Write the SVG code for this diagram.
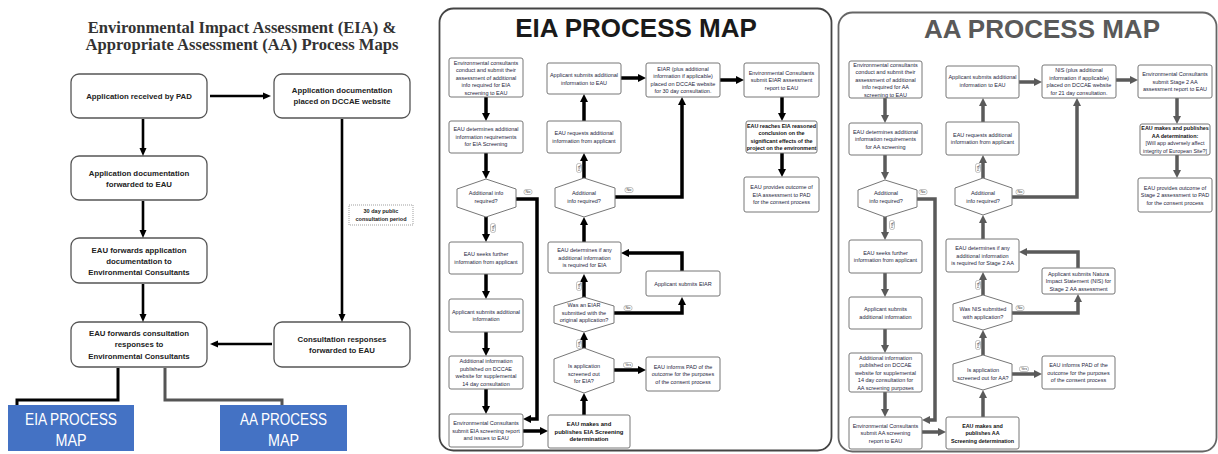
<svg xmlns="http://www.w3.org/2000/svg" width="1218" height="454" viewBox="0 0 1218 454">
<style>
.title{font-family:"Liberation Serif","Times New Roman",serif;font-weight:bold;font-size:16.6px;fill:#333;text-anchor:middle}
.ln{fill:#fff;stroke:#555;stroke-width:1.3}
.lt{font-family:"Liberation Sans",Arial,sans-serif;font-weight:bold;font-size:7.8px;fill:#222;text-anchor:middle}
.la{fill:none;stroke:#000;stroke-width:2.6}
.blue{fill:#4472C4}
.bt{font-family:"Liberation Sans",Arial,sans-serif;font-size:16px;fill:#fff;text-anchor:middle}
.panel{fill:#fff;stroke:#444;stroke-width:1.8}
.panelg{fill:#fff;stroke:#666;stroke-width:1.8}
.pt{font-family:"Liberation Sans",Arial,sans-serif;font-weight:bold;font-size:26px;text-anchor:middle}
.n{fill:#fff;stroke:#777;stroke-width:1}
.t{font-family:"Liberation Sans",Arial,sans-serif;font-size:5.5px;fill:#262640;text-anchor:middle}
.tb{font-weight:bold;font-size:5.4px;fill:#111}
.c{fill:none;stroke:#000;stroke-width:3.5}
.cg{fill:none;stroke:#5a5a5a;stroke-width:3.5}
.lb rect{fill:#fff;stroke:#999;stroke-width:0.6}
.lb text{font-family:"Liberation Sans",Arial,sans-serif;font-size:3.8px;fill:#333;text-anchor:middle}
</style>
<defs>
<marker id="ab" markerUnits="userSpaceOnUse" markerWidth="8" markerHeight="8" viewBox="0 0 8 8" refX="2" refY="4" orient="auto"><path d="M0,0 L8,4 L0,8 z" fill="#000"/></marker>
<marker id="ag" markerUnits="userSpaceOnUse" markerWidth="8" markerHeight="8" viewBox="0 0 8 8" refX="2" refY="4" orient="auto"><path d="M0,0 L8,4 L0,8 z" fill="#5a5a5a"/></marker>
<marker id="al" markerUnits="userSpaceOnUse" markerWidth="8" markerHeight="8" viewBox="0 0 8 8" refX="2" refY="4" orient="auto"><path d="M0,0.5 L8,4 L0,7.5 z" fill="#000"/></marker>
</defs>
<rect width="1218" height="454" fill="#fff"/>

<!-- LEFT PANEL -->
<text class="title" x="242" y="33">Environmental Impact Assessment (EIA) &amp;</text>
<text class="title" x="242" y="50">Appropriate Assessment (AA) Process Maps</text>

<g id="L1"><rect class="ln" x="71" y="74" width="136" height="44" rx="8"/><text class="lt" x="139" y="98.7">Application received by PAD</text></g>
<g id="L2"><rect class="ln" x="274" y="74" width="136" height="44" rx="8"/><text class="lt" x="342" y="92.7">Application documentation</text><text class="lt" x="342" y="103.7">placed on DCCAE website</text></g>
<g id="L3"><rect class="ln" x="71" y="156" width="136" height="44" rx="8"/><text class="lt" x="139" y="175.7">Application documentation</text><text class="lt" x="139" y="186.7">forwarded to EAU</text></g>
<g id="L4"><rect class="ln" x="71" y="238" width="136" height="45" rx="8"/><text class="lt" x="139" y="252.7">EAU forwards application</text><text class="lt" x="139" y="263.7">documentation to</text><text class="lt" x="139" y="274.7">Environmental Consultants</text></g>
<g id="L5"><rect class="ln" x="71" y="322" width="136" height="45" rx="8"/><text class="lt" x="139" y="335.7">EAU forwards consultation</text><text class="lt" x="139" y="347.2">responses to</text><text class="lt" x="139" y="358.7">Environmental Consultants</text></g>
<g id="L6"><rect class="ln" x="274" y="322" width="136" height="45" rx="8"/><text class="lt" x="342" y="341.7">Consultation responses</text><text class="lt" x="342" y="352.7">forwarded to EAU</text></g>
<g id="L7"><rect x="349" y="205" width="64" height="20" fill="#fff" stroke="#777" stroke-width="0.7" stroke-dasharray="1,1"/><text class="lt" x="381" y="213" style="font-size:5.5px">30 day public</text><text class="lt" x="381" y="221" style="font-size:5.5px">consultation period</text></g>
<g id="B1"><rect class="blue" x="8" y="405" width="126" height="46"/><text class="bt" x="71" y="425" textLength="92" lengthAdjust="spacingAndGlyphs">EIA PROCESS</text><text class="bt" x="71" y="446" textLength="31" lengthAdjust="spacingAndGlyphs">MAP</text></g>
<g id="B2"><rect class="blue" x="220" y="405" width="127" height="46"/><text class="bt" x="283.5" y="425" textLength="87" lengthAdjust="spacingAndGlyphs">AA PROCESS</text><text class="bt" x="283.5" y="446" textLength="31" lengthAdjust="spacingAndGlyphs">MAP</text></g>

<g id="left-connectors">
<path class="la" d="M210,96 H265" marker-end="url(#al)"/>
<path class="la" d="M143,119 V150" marker-end="url(#al)"/>
<path class="la" d="M143,201 V232" marker-end="url(#al)"/>
<path class="la" d="M143,284 V316" marker-end="url(#al)"/>
<path class="la" d="M272,344 H216" marker-end="url(#al)"/>
<path class="la" d="M342,119 V316" marker-end="url(#al)"/>
<path d="M118,368 V400 H17 V405" fill="none" stroke="#000" stroke-width="3"/>
<path d="M165,368 V400 H282 V405" fill="none" stroke="#555" stroke-width="3"/>
</g>

<!-- EIA PANEL -->
<rect class="panel" x="439.5" y="8.5" width="392" height="442" rx="14"/>
<text class="pt" x="636" y="37" fill="#1a1a1a">EIA PROCESS MAP</text>

<g id="eia-connectors">
<path class="c" d="M486,97 V115" marker-end="url(#ab)"/>
<path class="c" d="M486,153 V173" marker-end="url(#ab)"/>
<path class="c" d="M516,199 H537 V419 H529" marker-end="url(#ab)"/>
<path class="c" d="M486,217 V236" marker-end="url(#ab)"/>
<path class="c" d="M486,274 V293" marker-end="url(#ab)"/>
<path class="c" d="M486,332 V350" marker-end="url(#ab)"/>
<path class="c" d="M486,389 V408" marker-end="url(#ab)"/>
<path class="c" d="M523,431 H542" marker-end="url(#ab)"/>
<path class="c" d="M584,415 V399" marker-end="url(#ab)"/>
<path class="c" d="M614,370 H640" marker-end="url(#ab)"/>
<path class="c" d="M584,348 V338" marker-end="url(#ab)"/>
<path class="c" d="M614,313 H682 V303" marker-end="url(#ab)"/>
<path class="c" d="M682,271 V253 H627" marker-end="url(#ab)"/>
<path class="c" d="M584,297 V280" marker-end="url(#ab)"/>
<path class="c" d="M584,242 V223" marker-end="url(#ab)"/>
<path class="c" d="M615,197 H682 V103" marker-end="url(#ab)"/>
<path class="c" d="M584,178 V159" marker-end="url(#ab)"/>
<path class="c" d="M584,121 V100" marker-end="url(#ab)"/>
<path class="c" d="M621,78 H640" marker-end="url(#ab)"/>
<path class="c" d="M720,80 H738" marker-end="url(#ab)"/>
<path class="c" d="M782,97 V115" marker-end="url(#ab)"/>
<path class="c" d="M782,153 V171" marker-end="url(#ab)"/>
<g class="lb" transform="translate(528,192)"><rect x="-4" y="-2.5" width="8" height="5" rx="2"/><text y="1.3">No</text></g>
<g class="lb" transform="translate(493,228) rotate(90)"><rect x="-4.5" y="-2.5" width="9" height="5" rx="2"/><text y="1.3">Yes</text></g>
<g class="lb" transform="translate(628,365)"><rect x="-4.5" y="-2.5" width="9" height="5" rx="2"/><text y="1.3">Yes</text></g>
<g class="lb" transform="translate(579,344) rotate(90)"><rect x="-4.5" y="-2.5" width="9" height="5" rx="2"/><text y="1.3">Yes</text></g>
<g class="lb" transform="translate(628,308)"><rect x="-4" y="-2.5" width="8" height="5" rx="2"/><text y="1.3">No</text></g>
<g class="lb" transform="translate(579,286) rotate(90)"><rect x="-4.5" y="-2.5" width="9" height="5" rx="2"/><text y="1.3">Yes</text></g>
<g class="lb" transform="translate(629,190)"><rect x="-4" y="-2.5" width="8" height="5" rx="2"/><text y="1.3">No</text></g>
<g class="lb" transform="translate(579,168) rotate(90)"><rect x="-4.5" y="-2.5" width="9" height="5" rx="2"/><text y="1.3">Yes</text></g>
</g>

<g id="E1"><rect class="n" x="449" y="58" width="74" height="39" rx="2"/><text class="t" x="486" y="64.5">Environmental consultants</text><text class="t" x="486" y="72">conduct and submit their</text><text class="t" x="486" y="79.5">assessment of additional</text><text class="t" x="486" y="87">info required for EIA</text><text class="t" x="486" y="94.5">screening to EAU</text></g>
<g id="E2"><rect class="n" x="449" y="121" width="74" height="32" rx="2"/><text class="t" x="486" y="131">EAU determines additional</text><text class="t" x="486" y="138.5">information requirements</text><text class="t" x="486" y="146">for EIA Screening</text></g>
<g id="E3"><polygon class="n" points="457,189 486,179 516,189 516,207 486,217 457,207"/><text class="t" x="486" y="195">Additional info</text><text class="t" x="486" y="202.5">required?</text></g>
<g id="E4"><rect class="n" x="449" y="242" width="74" height="32" rx="2"/><text class="t" x="486" y="256.3">EAU seeks further</text><text class="t" x="486" y="263.8">information from applicant</text></g>
<g id="E5"><rect class="n" x="449" y="299" width="74" height="33" rx="2"/><text class="t" x="486" y="313.8">Applicant submits additional</text><text class="t" x="486" y="321.3">information</text></g>
<g id="E6"><rect class="n" x="449" y="356" width="74" height="33" rx="2"/><text class="t" x="486" y="363.3">Additional information</text><text class="t" x="486" y="370.8">published on DCCAE</text><text class="t" x="486" y="378.3">website for supplemental</text><text class="t" x="486" y="385.8">14 day consultation</text></g>
<g id="E7"><rect class="n" x="449" y="414" width="74" height="33" rx="2"/><text class="t" x="486" y="425">Environmental Consultants</text><text class="t" x="486" y="432.5">submit EIA screening report</text><text class="t" x="486" y="440">and issues to EAU</text></g>
<g id="E8"><rect class="n" x="548" y="415" width="82" height="33" rx="2"/><text class="t tb" x="589" y="426.2" style="font-size:5.9px">EAU makes and</text><text class="t tb" x="589" y="433.7" style="font-size:5.9px">publishes EIA Screening</text><text class="t tb" x="589" y="441.2" style="font-size:5.9px">determination</text></g>
<g id="E9"><polygon class="n" points="554,359 584,348 614,359 614,382 584,393 554,382"/><text class="t" x="584" y="368">Is application</text><text class="t" x="584" y="375.5">screened out</text><text class="t" x="584" y="383">for EIA?</text></g>
<g id="E10"><rect class="n" x="646" y="357" width="74" height="34" rx="2"/><text class="t" x="683" y="368.5">EAU informs PAD of the</text><text class="t" x="683" y="376">outcome for the purposes</text><text class="t" x="683" y="383.5">of the consent process</text></g>
<g id="E11"><polygon class="n" points="554,306 584,297 614,306 614,323 584,332 554,323"/><text class="t" x="584" y="307">Was an EIAR</text><text class="t" x="584" y="314.5">submitted with the</text><text class="t" x="584" y="322">original application?</text></g>
<g id="E12"><rect class="n" x="646" y="271" width="74" height="25" rx="2"/><text class="t" x="683" y="285.5">Applicant submits EIAR</text></g>
<g id="E13"><rect class="n" x="548" y="242" width="73" height="31" rx="2"/><text class="t" x="584.5" y="252">EAU determines if any</text><text class="t" x="584.5" y="259.5">additional information</text><text class="t" x="584.5" y="267">is required for EIA</text></g>
<g id="E14"><polygon class="n" points="555,188 584,178 615,188 615,207 584,217 555,207"/><text class="t" x="584" y="195">Additional</text><text class="t" x="584" y="203">info required?</text></g>
<g id="E15"><rect class="n" x="547" y="121" width="74" height="32" rx="2"/><text class="t" x="584" y="135.3">EAU requests additional</text><text class="t" x="584" y="142.8">information from applicant</text></g>
<g id="E16"><rect class="n" x="547" y="63" width="74" height="31" rx="2"/><text class="t" x="584" y="77">Applicant submits additional</text><text class="t" x="584" y="84.5">information to EAU</text></g>
<g id="E17"><rect class="n" x="646" y="63" width="74" height="34" rx="2"/><text class="t" x="683" y="70.8">EIAR (plus additional</text><text class="t" x="683" y="78.3">information if applicable)</text><text class="t" x="683" y="85.8">placed on DCCAE website</text><text class="t" x="683" y="93.3">for 30 day consultation.</text></g>
<g id="E18"><rect class="n" x="744" y="63" width="75" height="34" rx="2"/><text class="t" x="781.5" y="74.5">Environmental Consultants</text><text class="t" x="781.5" y="82">submit EIAR assessment</text><text class="t" x="781.5" y="89.5">report to EAU</text></g>
<g id="E19"><rect class="n" x="746" y="121" width="71" height="32" rx="2"/><text class="t tb" x="781.5" y="127.9">EAU reaches EIA reasoned</text><text class="t tb" x="781.5" y="135.4">conclusion on the</text><text class="t tb" x="781.5" y="142.9">significant effects of the</text><text class="t tb" x="781.5" y="150.4">project on the environment</text></g>
<g id="E20"><rect class="n" x="744" y="177" width="75" height="35" rx="2"/><text class="t" x="781.5" y="189">EAU provides outcome of</text><text class="t" x="781.5" y="196.5">EIA assessment to PAD</text><text class="t" x="781.5" y="204">for the consent process</text></g>

<!-- AA PANEL -->
<rect class="panelg" x="838.5" y="12.5" width="378" height="439" rx="14"/>
<text class="pt" x="1042" y="38" fill="#595959">AA PROCESS MAP</text>

<g id="aa-connectors">
<path class="cg" d="M885,98 V117" marker-end="url(#ag)"/>
<path class="cg" d="M885,155 V174" marker-end="url(#ag)"/>
<path class="cg" d="M917,199 H935 V420 H928" marker-end="url(#ag)"/>
<path class="cg" d="M885,217 V234" marker-end="url(#ag)"/>
<path class="cg" d="M885,273 V291" marker-end="url(#ag)"/>
<path class="cg" d="M885,329 V347" marker-end="url(#ag)"/>
<path class="cg" d="M885,392 V411" marker-end="url(#ag)"/>
<path class="cg" d="M922,432 H940" marker-end="url(#ag)"/>
<path class="cg" d="M983,417 V396" marker-end="url(#ag)"/>
<path class="cg" d="M1012,374 H1036" marker-end="url(#ag)"/>
<path class="cg" d="M983,355 V336" marker-end="url(#ag)"/>
<path class="cg" d="M1012,313 H1078 V300" marker-end="url(#ag)"/>
<path class="cg" d="M1078,268 V252 H1025" marker-end="url(#ag)"/>
<path class="cg" d="M983,295 V278" marker-end="url(#ag)"/>
<path class="cg" d="M983,239 V221" marker-end="url(#ag)"/>
<path class="cg" d="M1012,197 H1077 V104" marker-end="url(#ag)"/>
<path class="cg" d="M983,178 V161" marker-end="url(#ag)"/>
<path class="cg" d="M983,122 V104" marker-end="url(#ag)"/>
<path class="cg" d="M1019,82 H1036" marker-end="url(#ag)"/>
<path class="cg" d="M1116,80 H1132" marker-end="url(#ag)"/>
<path class="cg" d="M1177,98 V118" marker-end="url(#ag)"/>
<path class="cg" d="M1177,155 V172" marker-end="url(#ag)"/>
<g class="lb" transform="translate(923,192)"><rect x="-4" y="-2.5" width="8" height="5" rx="2"/><text y="1.3">No</text></g>
<g class="lb" transform="translate(892,225) rotate(90)"><rect x="-4.5" y="-2.5" width="9" height="5" rx="2"/><text y="1.3">Yes</text></g>
<g class="lb" transform="translate(1024,369)"><rect x="-4.5" y="-2.5" width="9" height="5" rx="2"/><text y="1.3">Yes</text></g>
<g class="lb" transform="translate(978,345) rotate(90)"><rect x="-4.5" y="-2.5" width="9" height="5" rx="2"/><text y="1.3">Yes</text></g>
<g class="lb" transform="translate(1020,308)"><rect x="-4" y="-2.5" width="8" height="5" rx="2"/><text y="1.3">No</text></g>
<g class="lb" transform="translate(978,285) rotate(90)"><rect x="-4.5" y="-2.5" width="9" height="5" rx="2"/><text y="1.3">Yes</text></g>
<g class="lb" transform="translate(1020,192)"><rect x="-4" y="-2.5" width="8" height="5" rx="2"/><text y="1.3">No</text></g>
<g class="lb" transform="translate(978,168) rotate(90)"><rect x="-4.5" y="-2.5" width="9" height="5" rx="2"/><text y="1.3">Yes</text></g>
</g>

<g id="A1"><rect class="n" x="849" y="61" width="73" height="37" rx="2"/><text class="t" x="885.5" y="66.5">Environmental consultants</text><text class="t" x="885.5" y="74">conduct and submit their</text><text class="t" x="885.5" y="81.5">assessment of additional</text><text class="t" x="885.5" y="89">info required for AA</text><text class="t" x="885.5" y="96.5">screening to EAU</text></g>
<g id="A2"><rect class="n" x="849" y="123" width="73" height="32" rx="2"/><text class="t" x="885.5" y="133.5">EAU determines additional</text><text class="t" x="885.5" y="141">information requirements</text><text class="t" x="885.5" y="148.5">for AA screening</text></g>
<g id="A3"><polygon class="n" points="858,190 885,180 917,190 917,207 885,217 858,207"/><text class="t" x="886" y="195">Additional</text><text class="t" x="886" y="203">info required?</text></g>
<g id="A4"><rect class="n" x="849" y="240" width="73" height="33" rx="2"/><text class="t" x="885.5" y="254.8">EAU seeks further</text><text class="t" x="885.5" y="262.3">information from applicant</text></g>
<g id="A5"><rect class="n" x="849" y="297" width="73" height="32" rx="2"/><text class="t" x="885.5" y="311.3">Applicant submits</text><text class="t" x="885.5" y="318.8">additional information</text></g>
<g id="A6"><rect class="n" x="849" y="353" width="73" height="39" rx="2"/><text class="t" x="885.5" y="359.5">Additional information</text><text class="t" x="885.5" y="367">published on DCCAE</text><text class="t" x="885.5" y="374.5">website for supplemental</text><text class="t" x="885.5" y="382">14 day consultation for</text><text class="t" x="885.5" y="389.5">AA screening purposes</text></g>
<g id="A7"><rect class="n" x="849" y="417" width="73" height="32" rx="2"/><text class="t" x="885.5" y="427.5">Environmental Consultants</text><text class="t" x="885.5" y="435">submit AA screening</text><text class="t" x="885.5" y="442.5">report to EAU</text></g>
<g id="A8"><rect class="n" x="946" y="417" width="73" height="32" rx="2"/><text class="t tb" x="982.5" y="427.7">EAU makes and</text><text class="t tb" x="982.5" y="435.2">publishes AA</text><text class="t tb" x="982.5" y="442.7">Screening determination</text></g>
<g id="A9"><polygon class="n" points="953,364 983,355 1012,364 1012,381 983,390 953,381"/><text class="t" x="983" y="372">Is application</text><text class="t" x="983" y="380">screened out for AA?</text></g>
<g id="A10"><rect class="n" x="1042" y="356" width="73" height="33" rx="2"/><text class="t" x="1078.5" y="367">EAU informs PAD of the</text><text class="t" x="1078.5" y="374.5">outcome for the purposes</text><text class="t" x="1078.5" y="382">of the consent process</text></g>
<g id="A11"><polygon class="n" points="953,304 983,295 1012,304 1012,321 983,330 953,321"/><text class="t" x="983" y="311">Was NIS submitted</text><text class="t" x="983" y="319">with application?</text></g>
<g id="A12"><rect class="n" x="1042" y="268" width="73" height="26" rx="2"/><text class="t" x="1078.5" y="275.5">Applicant submits Natura</text><text class="t" x="1078.5" y="283">Impact Statement (NIS) for</text><text class="t" x="1078.5" y="290.5">Stage 2 AA assessment</text></g>
<g id="A13"><rect class="n" x="946" y="239" width="73" height="33" rx="2"/><text class="t" x="982.5" y="250">EAU determines if any</text><text class="t" x="982.5" y="257.5">additional information</text><text class="t" x="982.5" y="265">is required for Stage 2 AA</text></g>
<g id="A14"><polygon class="n" points="955,188 983,178 1012,188 1012,205 983,215 955,205"/><text class="t" x="983" y="195">Additional</text><text class="t" x="983" y="203">info required?</text></g>
<g id="A15"><rect class="n" x="946" y="122" width="73" height="33" rx="2"/><text class="t" x="982.5" y="136.8">EAU requests additional</text><text class="t" x="982.5" y="144.3">information from applicant</text></g>
<g id="A16"><rect class="n" x="946" y="66" width="73" height="32" rx="2"/><text class="t" x="982.5" y="79.3">Applicant submits additional</text><text class="t" x="982.5" y="86.8">information to EAU</text></g>
<g id="A17"><rect class="n" x="1042" y="65" width="74" height="33" rx="2"/><text class="t" x="1079" y="72.3">NIS (plus additional</text><text class="t" x="1079" y="79.8">information if applicable)</text><text class="t" x="1079" y="87.3">placed on DCCAE website</text><text class="t" x="1079" y="94.8">for 21 day consultation.</text></g>
<g id="A18"><rect class="n" x="1138" y="65" width="74" height="33" rx="2"/><text class="t" x="1175" y="76">Environmental Consultants</text><text class="t" x="1175" y="83.5">submit Stage 2 AA</text><text class="t" x="1175" y="91">assessment report to EAU</text></g>
<g id="A19"><rect class="n" x="1140" y="124" width="70" height="31" rx="2"/><text class="t tb" x="1175" y="130.3">EAU makes and publishes</text><text class="t tb" x="1175" y="137.8">AA determination:</text><text class="t" x="1175" y="145.3" style="font-size:5.3px">[Will app adversely affect</text><text class="t" x="1175" y="152.8" style="font-size:5.3px">integrity of European Site?]</text></g>
<g id="A20"><rect class="n" x="1138" y="178" width="74" height="34" rx="2"/><text class="t" x="1175" y="189.5">EAU provides outcome of</text><text class="t" x="1175" y="197">Stage 2 assessment to PAD</text><text class="t" x="1175" y="204.5">for the consent process</text></g>
</svg>
